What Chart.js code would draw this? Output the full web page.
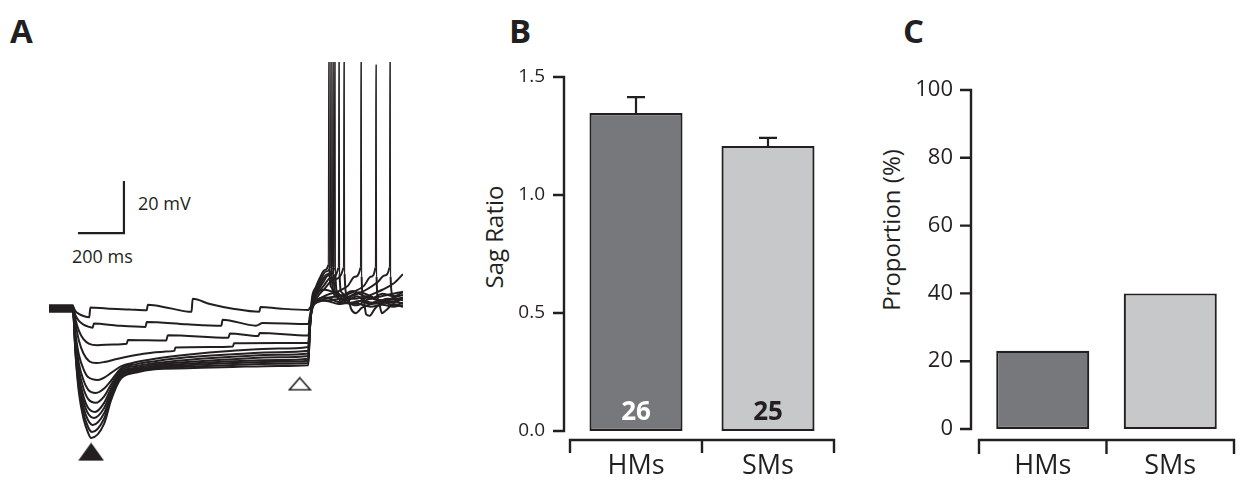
<!DOCTYPE html>
<html>
<head>
<meta charset="utf-8">
<script src="https://cdn.jsdelivr.net/npm/chart.js@4.4.1/dist/chart.umd.min.js"></script>
<style>
  body { margin: 0; width: 1243px; height: 485px; background: #fff; position: relative; overflow: hidden;
         font-family: "Open Sans", sans-serif; color: #231f20; }
  canvas { position: absolute; }
  .txt { position: absolute; line-height: 1; white-space: nowrap; }
  .panel { font-size: 33px; font-weight: 700; }
  .bar-label { font-size: 18px; }
  .axis-title { font-size: 24px; transform: translate(-50%, -50%) rotate(-90deg); }
</style>
</head>
<body>
<div class="txt panel" style="left:10px; top:14px;">A</div>
<div class="txt panel" style="left:509px; top:14px;">B</div>
<div class="txt panel" style="left:903px; top:14px;">C</div>
<div class="txt bar-label" style="left:138px; top:194px;">20 mV</div>
<div class="txt bar-label" style="left:72px; top:247px;">200 ms</div>
<div class="txt axis-title" style="left:494px; top:237px;">Sag Ratio</div>
<div class="txt axis-title" style="left:891px; top:230px;">Proportion (%)</div>

<canvas id="chartA" width="370" height="420" style="left:40px; top:50px;"></canvas>
<canvas id="chartB" width="400" height="445" style="left:470px; top:40px;"></canvas>
<canvas id="chartC" width="373" height="445" style="left:870px; top:40px;"></canvas>

<script>
// --- A: voltage traces, [time ms, mV] ---
const trace1 = [[0,-59.5],[104,-59.5],[115,-61.2],[130,-62.3],[150,-63.1],[175,-63.6],[180,-59.8],[250,-60.2],[350,-60.6],[425,-60.9],[430,-58.8],[520,-60],[620,-61.5],[625,-56.5],[700,-58.5],[800,-60.3],[915,-61.5],[920,-59.6],[1000,-60.2],[1128,-60.8],[1135,-60],[1150,-58],[1180,-57],[1220,-57.5],[1260,-58.5],[1300,-58],[1350,-58.5],[1400,-59.5],[1450,-58.8],[1500,-59.5],[1540,-59]];
const trace2 = [[0,-60.3],[104,-60.3],[115,-62.8],[130,-65],[150,-66.4],[175,-67.3],[190,-67.6],[195,-66],[300,-66.8],[420,-67.3],[425,-65.4],[600,-66.3],[750,-66.8],[755,-64.5],[900,-66.8],[930,-65.8],[1128,-66.2],[1135,-63],[1145,-59],[1170,-56.5],[1210,-56],[1250,-57.5],[1300,-58.2],[1350,-57.3],[1400,-58.5],[1450,-58],[1500,-57.5],[1540,-58.3]];
const trace3 = [[0,-59],[104,-59],[115,-64.3],[130,-68.7],[150,-72],[175,-73.8],[210,-74.3],[280,-74.1],[338,-73.8],[343,-72.3],[510,-72.5],[517,-70.5],[780,-71.5],[787,-69.8],[910,-70.8],[917,-69.6],[1128,-70.6],[1136,-65],[1146,-58.5],[1165,-54.5],[1200,-53],[1240,-54],[1280,-55.5],[1330,-56.5],[1380,-55.5],[1420,-56.8],[1470,-57],[1540,-56]];
const trace4 = [[0,-60.8],[104,-60.8],[115,-66],[130,-72.5],[150,-77.5],[175,-80.5],[205,-81.2],[240,-80.8],[300,-79.5],[400,-77.8],[500,-76.8],[545,-76.5],[550,-75.2],[700,-75],[800,-74.8],[805,-73.6],[1000,-73.5],[1128,-73.5],[1135,-65],[1147,-59.5],[1175,-57.5],[1220,-57],[1270,-56.5],[1330,-55],[1380,-53],[1430,-50],[1460,-47.5],[1481,-44.5],[1483,38],[1484.5,38],[1486,-48],[1495,-55],[1510,-57.5],[1540,-56]];
const trace5 = [[0,-59.8],[104,-59.8],[115,-69.7],[130,-78],[150,-83.5],[170,-86.6],[213,-87.7],[240,-86.8],[270,-85],[313,-82.5],[380,-80.8],[461,-79.5],[600,-78],[800,-76.5],[1000,-75.6],[1128,-75],[1134,-66.5],[1146,-60],[1175,-57.5],[1220,-56],[1270,-55.5],[1320,-54],[1370,-51.5],[1400,-48],[1420,-44.5],[1422,33.5],[1423.5,33.5],[1425,-48],[1433,-57],[1448,-62],[1465,-61],[1500,-58.5],[1540,-59.6]];
const trace6 = [[0,-61.2],[104,-61.2],[115,-71.4],[130,-81.3],[150,-87.8],[170,-91.4],[204,-92.7],[240,-91],[270,-88],[313,-83.3],[380,-81.6],[461,-80.5],[600,-79],[800,-77.8],[1000,-77],[1128,-76.5],[1134,-67.5],[1146,-60],[1170,-57],[1210,-55],[1260,-53.5],[1300,-51.5],[1330,-48],[1355,-44.5],[1357,38],[1358.5,38],[1360,-48],[1368,-57],[1380,-62.5],[1395,-63],[1420,-60],[1460,-58],[1500,-59],[1540,-58]];
const trace7 = [[0,-60],[104,-60],[115,-72.8],[130,-83.7],[150,-91],[170,-95],[204,-96.5],[240,-94],[270,-89.5],[313,-84],[380,-82.3],[461,-81.2],[600,-80],[800,-78.8],[1000,-78],[1128,-77.5],[1134,-68],[1145,-59.5],[1170,-55.5],[1200,-52.5],[1240,-49],[1281,-44.5],[1283,38],[1284.5,38],[1286,-47],[1296,-55],[1315,-60.5],[1335,-62],[1360,-60],[1400,-58.5],[1440,-57],[1490,-58],[1540,-56.2]];
const trace8 = [[0,-59.3],[104,-59.3],[115,-74],[130,-86],[150,-94],[170,-98.4],[200,-100],[240,-96.5],[270,-91],[313,-84.6],[380,-83],[461,-81.8],[600,-80.8],[800,-79.7],[1000,-79],[1128,-78.5],[1134,-68.5],[1145,-59],[1165,-55],[1195,-51.5],[1225,-48.5],[1259,-44.5],[1261,38],[1262.5,38],[1264,-47],[1273,-54],[1300,-57.5],[1340,-59],[1380,-57],[1420,-56],[1470,-55],[1540,-53.8]];
const trace9 = [[0,-60.6],[104,-60.6],[115,-74.8],[130,-87.5],[150,-96],[170,-100.6],[196,-102.3],[240,-98.5],[270,-92.3],[313,-85.2],[380,-83.5],[461,-82.3],[600,-81.5],[800,-80.5],[1000,-80],[1128,-79.5],[1134,-69],[1144,-59],[1163,-54.5],[1190,-50.5],[1215,-47.5],[1241,-44.5],[1243,38],[1244.5,38],[1246,-47],[1255,-54],[1280,-57],[1320,-58.5],[1360,-57],[1400,-55],[1450,-53],[1500,-50.5],[1540,-47]];
const trace10 = [[0,-61.5],[104,-61.5],[115,-75.8],[130,-89.3],[150,-98.3],[170,-103.2],[191,-105],[240,-100.5],[270,-93.5],[313,-85.8],[380,-84],[461,-82.8],[600,-82],[800,-81.2],[1000,-80.7],[1128,-80.3],[1134,-69.5],[1144,-58.5],[1162,-54],[1185,-50],[1210,-47],[1233,-44.3],[1235,38],[1236.5,38],[1238,-47],[1247,-54],[1270,-57.5],[1310,-55.5],[1350,-54],[1400,-55.5],[1450,-57.5],[1500,-56],[1540,-55]];
const trace11 = [[0,-59.6],[104,-59.6],[115,-76.7],[130,-91],[150,-100.5],[170,-105.8],[187,-107.7],[240,-102.5],[270,-94.5],[313,-86.4],[380,-84.5],[461,-83.2],[600,-82.6],[800,-81.9],[1000,-81.5],[1128,-81.2],[1134,-70],[1143,-58],[1161,-53],[1180,-49.5],[1205,-46],[1224,-44],[1226,38],[1227.5,38],[1229,-46],[1238,-53],[1260,-56.5],[1300,-57],[1340,-55.5],[1380,-57.5],[1420,-58],[1470,-56.5],[1540,-57]];
const trace12 = [[0,-60.9],[104,-60.9],[115,-77.5],[130,-92.5],[150,-102.5],[170,-108],[183,-110],[240,-104.5],[270,-95.5],[313,-87.2],[380,-84.8],[461,-83.6],[600,-83.2],[800,-82.7],[1000,-82.3],[1128,-82],[1134,-70],[1143,-57],[1161,-52],[1178,-48.5],[1200,-45.4],[1215,-43.5],[1217,38],[1218.5,38],[1220,-45],[1228,-52],[1245,-55.5],[1280,-55],[1320,-53.5],[1360,-55],[1400,-56.5],[1450,-54.5],[1500,-55.5],[1540,-54]];
const traces = [trace1, trace2, trace3, trace4, trace5, trace6, trace7, trace8, trace9, trace10, trace11, trace12];

// sag peak (filled) and steady state (open) markers, [time ms, mV]
const sagMarker = [183, -115.4];
const steadyMarker = [1091, -89.2];
// scale bar: 200 ms x 20 mV
const scaleBarStart = [126, -31.2];
const scaleBarMs = 200;
const scaleBarMv = 20;

// --- B & C ---
const groups = ["HMs", "SMs"];
const sagRatio = [1.347, 1.208];
const sagSem = [0.068, 0.034];
const cellCounts = ["26", "25"];
const sagTicks = [0, 0.5, 1.0, 1.5];
const proportion = [23.1, 40];
const proportionTicks = [0, 20, 40, 60, 80, 100];

const ink = "#231f20";
const barFills = ["#77787b", "#c7c8ca"];
const countColors = ["#ffffff", ink];

// --- helpers ---
function triangleImage(w, h, fill) {
    const c = document.createElement("canvas");
    c.width = w + 3;
    c.height = h + 3;
    const g = c.getContext("2d");
    g.beginPath();
    g.moveTo(1.5 + w / 2, 1.5);
    g.lineTo(1.5 + w, 1.5 + h);
    g.lineTo(1.5, 1.5 + h);
    g.closePath();
    g.fillStyle = fill;
    g.fill();
    g.strokeStyle = ink;
    g.lineWidth = 1.5;
    g.stroke();
    return c;
}

// y axis line + tick marks and the bracket under the categories
const axisFrame = {
    id: "axisFrame",
    afterDraw(chart, args, opts) {
        const { ctx, chartArea } = chart;
        const x = chart.scales.x;
        const y = chart.scales.y;
        const ax = chartArea.left - opts.axisGap;
        ctx.save();
        ctx.strokeStyle = ink;
        ctx.lineWidth = 2.4;
        ctx.beginPath();
        ctx.moveTo(ax, y.getPixelForValue(y.max) - 1.2);
        ctx.lineTo(ax, y.getPixelForValue(y.min) + 1.2);
        y.ticks.forEach(t => {
            const py = y.getPixelForValue(t.value);
            ctx.moveTo(ax - 11, py);
            ctx.lineTo(ax, py);
        });
        const by = y.getPixelForValue(0) + opts.bracketGap;
        const mid = (x.getPixelForValue(0) + x.getPixelForValue(1)) / 2;
        ctx.moveTo(chartArea.left, by + opts.bracketTick);
        ctx.lineTo(chartArea.left, by);
        ctx.lineTo(chartArea.right, by);
        ctx.lineTo(chartArea.right, by + opts.bracketTick);
        ctx.moveTo(mid, by);
        ctx.lineTo(mid, by + opts.bracketTick);
        ctx.stroke();
        ctx.restore();
    }
};

// error bars (SEM) and n inside the bars
const barNotes = {
    id: "barNotes",
    afterDatasetsDraw(chart, args, opts) {
        const { ctx } = chart;
        const y = chart.scales.y;
        const meta = chart.getDatasetMeta(0);
        ctx.save();
        meta.data.forEach((bar, i) => {
            const top = y.getPixelForValue(sagRatio[i] + sagSem[i]);
            ctx.strokeStyle = ink;
            ctx.lineWidth = 2.2;
            ctx.beginPath();
            ctx.moveTo(bar.x, bar.y);
            ctx.lineTo(bar.x, top);
            ctx.moveTo(bar.x - 9, top);
            ctx.lineTo(bar.x + 9, top);
            ctx.stroke();

            ctx.fillStyle = countColors[i];
            ctx.font = "700 26px 'Open Sans'";
            ctx.textAlign = "center";
            ctx.textBaseline = "alphabetic";
            ctx.fillText(cellCounts[i], bar.x, y.getPixelForValue(0) - 11);
        });
        ctx.restore();
    }
};

// --- Chart A ---
const traceSets = traces.map(tr => ({
    data: tr.map(p => ({ x: p[0], y: p[1] })),
    borderColor: ink,
    borderWidth: 2,
    pointRadius: 0,
    cubicInterpolationMode: "monotone",
    segment: {
        borderWidth: c => (Math.abs(c.p1.parsed.y - c.p0.parsed.y) > 40 ? 1.1 : 2)
    }
}));

new Chart(document.getElementById("chartA"), {
    type: "line",
    data: {
        datasets: [
            ...traceSets,
            {
                data: [
                    { x: scaleBarStart[0], y: scaleBarStart[1] },
                    { x: scaleBarStart[0] + scaleBarMs, y: scaleBarStart[1] },
                    { x: scaleBarStart[0] + scaleBarMs, y: scaleBarStart[1] + scaleBarMv }
                ],
                borderColor: ink,
                borderWidth: 2.2,
                pointRadius: 0,
                tension: 0
            },
            {
                data: [{ x: sagMarker[0], y: sagMarker[1] }],
                showLine: false,
                pointStyle: triangleImage(23, 16, ink)
            },
            {
                data: [{ x: steadyMarker[0], y: steadyMarker[1] }],
                showLine: false,
                pointStyle: triangleImage(21, 12, "#ffffff")
            }
        ]
    },
    options: {
        responsive: false,
        animation: false,
        layout: { padding: { left: 9, top: 12, right: 7, bottom: 8 } },
        plugins: { legend: { display: false }, tooltip: { enabled: false } },
        scales: {
            x: { type: "linear", min: 0, max: 1540, display: false },
            y: { min: -119.25, max: 34.6, display: false }
        }
    }
});

// --- Chart B ---
new Chart(document.getElementById("chartB"), {
    type: "bar",
    data: {
        labels: groups,
        datasets: [{
            data: sagRatio,
            backgroundColor: barFills,
            borderColor: ink,
            borderWidth: 2.2,
            borderSkipped: false,
            barPercentage: 0.705,
            categoryPercentage: 1
        }]
    },
    plugins: [axisFrame, barNotes],
    options: {
        responsive: false,
        animation: false,
        layout: { padding: { left: 0, top: 37, right: 36, bottom: 0 } },
        plugins: {
            legend: { display: false },
            tooltip: { enabled: false },
            axisFrame: { axisGap: 6, bracketGap: 9, bracketTick: 13 }
        },
        scales: {
            x: {
                grid: { display: false, drawTicks: false },
                border: { display: false },
                ticks: { color: ink, padding: 19, font: { family: "Open Sans", size: 27 } },
                afterFit: s => { s.height = 54; }
            },
            y: {
                min: 0,
                max: 1.5,
                grid: { display: false, drawTicks: false },
                border: { display: false },
                afterBuildTicks: s => { s.ticks = sagTicks.map(v => ({ value: v })); },
                ticks: { color: ink, padding: 25, font: { family: "Open Sans", size: 19 }, callback: v => v.toFixed(1) },
                afterFit: s => { s.width = 100; }
            }
        }
    }
});

// --- Chart C ---
new Chart(document.getElementById("chartC"), {
    type: "bar",
    data: {
        labels: groups,
        datasets: [{
            data: proportion,
            backgroundColor: barFills,
            borderColor: ink,
            borderWidth: 2.2,
            borderSkipped: false,
            barPercentage: 0.73,
            categoryPercentage: 1
        }]
    },
    plugins: [axisFrame],
    options: {
        responsive: false,
        animation: false,
        layout: { padding: { left: 0, top: 50, right: 9, bottom: 0 } },
        plugins: {
            legend: { display: false },
            tooltip: { enabled: false },
            axisFrame: { axisGap: 8, bracketGap: 11, bracketTick: 14 }
        },
        scales: {
            x: {
                grid: { display: false, drawTicks: false },
                border: { display: false },
                ticks: { color: ink, padding: 21, font: { family: "Open Sans", size: 27 } },
                afterFit: s => { s.height = 56; }
            },
            y: {
                min: 0,
                max: 100,
                grid: { display: false, drawTicks: false },
                border: { display: false },
                afterBuildTicks: s => { s.ticks = proportionTicks.map(v => ({ value: v })); },
                ticks: { color: ink, padding: 26, font: { family: "Open Sans", size: 22 } },
                afterFit: s => { s.width = 109; }
            }
        }
    }
});
</script>
</body>
</html>
